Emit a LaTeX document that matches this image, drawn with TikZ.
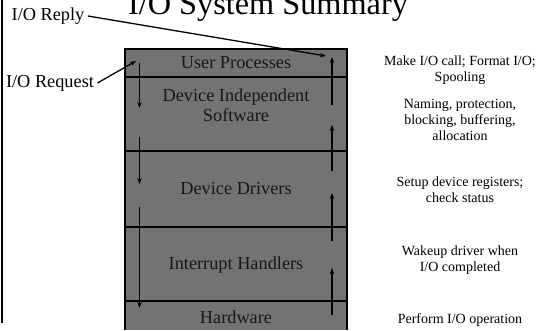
\documentclass[tikz,border=0pt]{standalone}
\usepackage{fontspec}
\setmainfont{Liberation Serif}
\usetikzlibrary{arrows.meta}
\definecolor{layergray}{RGB}{115,115,115}
\definecolor{layertext}{RGB}{24,24,24}

\begin{document}
\begin{tikzpicture}[x=1pt,y=1pt,
    layer/.style={text=layertext,font=\fontsize{18.3}{20}\selectfont,align=center},
    note/.style={font=\fontsize{14}{16}\selectfont,align=center},
    flow/.style={line width=1.3pt,-{Stealth[length=6pt,width=4.5pt]}}]
    \useasboundingbox (0,0) rectangle (544,330);
    % slide frame and title
    \draw[line width=1.8pt] (2,330)--(2,7);
    \node[font=\fontsize{32.3}{34}\selectfont,anchor=base] (title) at (268,315) {I/O System Summary};
    % layer stack
    \fill[layergray] (125,0) rectangle (347,281);
    \draw[line width=1.8pt] (125,0)--(125,281)--(347,281)--(347,0);
    \foreach \y in {253,179,103,29}
        \draw[line width=1.5pt] (125,\y)--(347,\y);
    \node[layer] (user) at (236,267) {User Processes};
    \node[layer] (indep) at (236,225) {Device Independent\\Software};
    \node[layer] (drivers) at (236,141) {Device Drivers};
    \node[layer] (handlers) at (236,65) {Interrupt Handlers};
    \node[layer] (hw) at (236,13) {Hardware};
    % request path down, reply path up
    \coordinate (d1) at (139.5,267); \coordinate (d2) at (139.5,222);
    \coordinate (d3) at (139.5,193); \coordinate (d4) at (139.5,146);
    \coordinate (d5) at (139.5,123); \coordinate (d6) at (139.5,22);
    \coordinate (u1) at (332,15);  \coordinate (u2) at (332,62);
    \coordinate (u3) at (332,89);  \coordinate (u4) at (332,137);
    \coordinate (u5) at (332,159); \coordinate (u6) at (332,205);
    \coordinate (u7) at (332,225); \coordinate (u8) at (332,273);
    \draw[flow] (d1)--(d2);
    \draw[flow] (d3)--(d4);
    \draw[flow] (d5)--(d6);
    \draw[flow] (u1)--(u2);
    \draw[flow] (u3)--(u4);
    \draw[flow] (u5)--(u6);
    \draw[flow] (u7)--(u8);
    % outside labels
    \node[layer,text=black] (reply) at (48,314) {I/O Reply};
    \node[layer,text=black] (request) at (50,247) {I/O Request};
    \coordinate (replytip) at (326,274);
    \coordinate (requesttip) at (136,269);
    \draw[flow] (reply.east)--(replytip);
    \draw[flow] (request.east)--(requesttip);
    % what each layer does
    \node[note] (n1) at (460,260) {Make I/O call; Format I/O;\\Spooling};
    \node[note] (n2) at (460,210) {Naming, protection,\\blocking, buffering,\\allocation};
    \node[note] (n3) at (460,140) {Setup device registers;\\check status};
    \node[note] (n4) at (460,70) {Wakeup driver when\\I/O completed};
    \node[note] (n5) at (460,10) {Perform I/O operation};
\end{tikzpicture}
\end{document}
